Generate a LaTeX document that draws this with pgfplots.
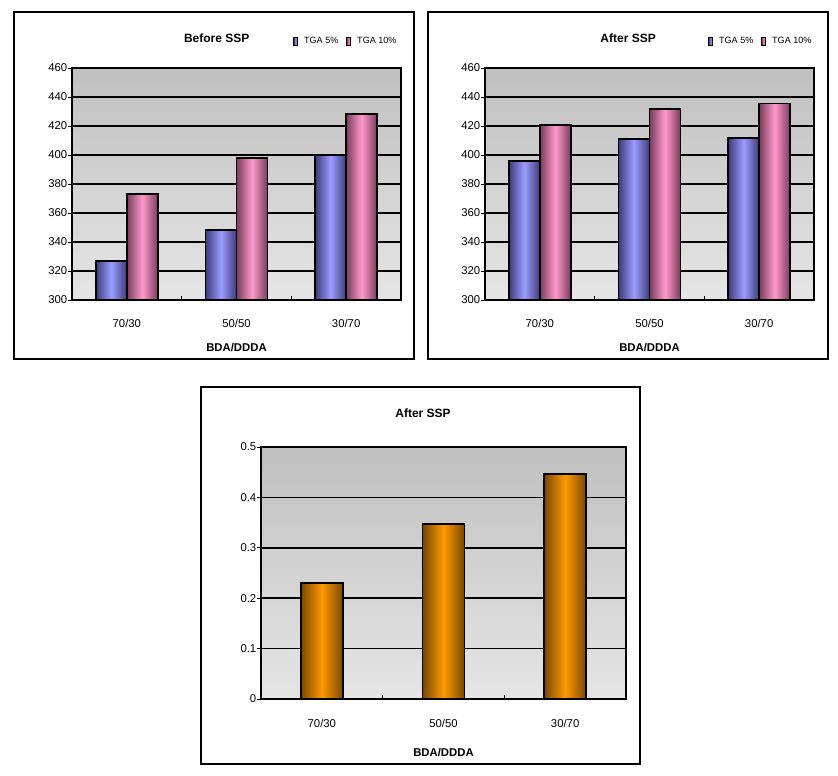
\documentclass[border=0pt]{standalone}
\usepackage{fontspec}
\setmainfont{Liberation Sans}
\usepackage{pgfplots}
\pgfplotsset{compat=1.18}

\definecolor{blueLt}{HTML}{9C9CFF}
\definecolor{blueDk}{HTML}{3C3C7A}
\definecolor{pinkLt}{HTML}{FF99CC}
\definecolor{pinkDk}{HTML}{7A3C5C}
\definecolor{orngLt}{HTML}{FF9900}
\definecolor{orngDk}{HTML}{7A4800}

\pgfplotsset{
  sspbase/.style={
    scale only axis, anchor=south west,
    xmin=0.5, xmax=3.5,
    % small marks between the groups, category names as extra ticks
    xtick={1.5,2.5}, xticklabels={},
    extra x ticks={1,2,3}, extra x tick labels={70/30,50/50,30/70},
    extra x tick style={major tick length=0pt},
    tick pos=left, tick align=inside, major tick length=3pt,
    xtick style={black, line width=0.8pt},
    ytick style={black, line width=0.6pt, xshift=-3pt},
    ymajorgrids, grid style={black, line width=1.1pt},
    axis line style={line width=1.5pt},
    axis background/.style={top color=black!25, bottom color=black!10},
    tick label style={font=\fontsize{8.5}{9}\selectfont},
    /pgf/number format/assume math mode=true,
    xlabel={\textbf{BDA/DDDA}},
    label style={font=\fontsize{8.5}{9}\selectfont},
    title style={font=\bfseries\fontsize{9}{10}\selectfont, anchor=center},
    legend image code/.code={\draw[#1, line width=0.8pt] (0pt,-3pt) rectangle (2.5pt,3pt); \path (5pt,0pt);},
    legend style={draw=none, fill=none, inner sep=0pt, anchor=west,
      font=\fontsize{6.8}{7}\selectfont, legend columns=2,
      /tikz/every even column/.append style={column sep=4pt}},
  },
  twobar/.style={
    sspbase, width=246.75pt, height=174pt,
    ymin=300, ymax=460, ytick distance=20,
    xticklabel style={yshift=-11pt},
    xlabel style={at={(axis description cs:0.5,0)}, anchor=center, yshift=-36pt},
  },
  % one bar per \addplot, so that each bar gets its own shading
  bar5/.style={ybar, bar width=23.25pt, bar shift=-11.625pt, draw=black, line width=1.4pt,
    left color=blueDk, right color=blueDk, middle color=blueLt},
  bar10/.style={ybar, bar width=23.25pt, bar shift=11.625pt, draw=black, line width=1.4pt,
    left color=pinkDk, right color=pinkDk, middle color=pinkLt},
  barO/.style={ybar, bar width=31.5pt, bar shift=0pt, draw=black, line width=1.4pt,
    left color=orngDk, right color=orngDk, middle color=orngLt},
}

\begin{document}
\begin{tikzpicture}
\useasboundingbox (0,0) rectangle (628.5pt,581.25pt);
% frames round the three charts
\draw[line width=1.5pt] (10.5pt,572.25pt) rectangle (310.5pt,312pt);
\draw[line width=1.5pt] (321pt,572.25pt) rectangle (621pt,312pt);
\draw[line width=1.5pt] (150.75pt,291pt) rectangle (480pt,8.25pt);

% Before SSP
\begin{axis}[twobar, at={(54pt,356.25pt)},
  title={Before SSP}, title style={at={(axis description cs:0.44,1)}, yshift=16.5pt},
  legend style={at={(axis description cs:0.672,1.116)}}]
\addplot[bar5]  coordinates {(1,327)};
\addplot[bar10] coordinates {(1,373)};
\addplot[bar5, forget plot]  coordinates {(2,348.5)};
\addplot[bar10, forget plot] coordinates {(2,398)};
\addplot[bar5, forget plot]  coordinates {(3,400)};
\addplot[bar10, forget plot] coordinates {(3,428)};
\legend{TGA 5\%, TGA 10\%}
\end{axis}

% After SSP
\begin{axis}[twobar, at={(363.75pt,356.25pt)},
  title={After SSP}, title style={at={(axis description cs:0.435,1)}, yshift=16.5pt},
  legend style={at={(axis description cs:0.678,1.116)}}]
\addplot[bar5]  coordinates {(1,396)};
\addplot[bar10] coordinates {(1,420.5)};
\addplot[bar5, forget plot]  coordinates {(2,411)};
\addplot[bar10, forget plot] coordinates {(2,431.5)};
\addplot[bar5, forget plot]  coordinates {(3,412)};
\addplot[bar10, forget plot] coordinates {(3,435.5)};
\legend{TGA 5\%, TGA 10\%}
\end{axis}

% After SSP, single series
\begin{axis}[sspbase, at={(195.75pt,57pt)}, width=273.75pt, height=189pt,
  ymin=0, ymax=0.5, ytick={0,0.1,0.2,0.3,0.4,0.5},
  yticklabels={0,0.1,0.2,0.3,0.4,0.5},
  xticklabel style={yshift=-12pt},
  xlabel style={at={(axis description cs:0.5,0)}, anchor=center, yshift=-40.5pt},
  title={After SSP}, title style={at={(axis description cs:0.444,1)}, yshift=19.5pt}]
\addplot[barO] coordinates {(1,0.23)};
\addplot[barO] coordinates {(2,0.347)};
\addplot[barO] coordinates {(3,0.446)};
\end{axis}
\end{tikzpicture}
\end{document}
